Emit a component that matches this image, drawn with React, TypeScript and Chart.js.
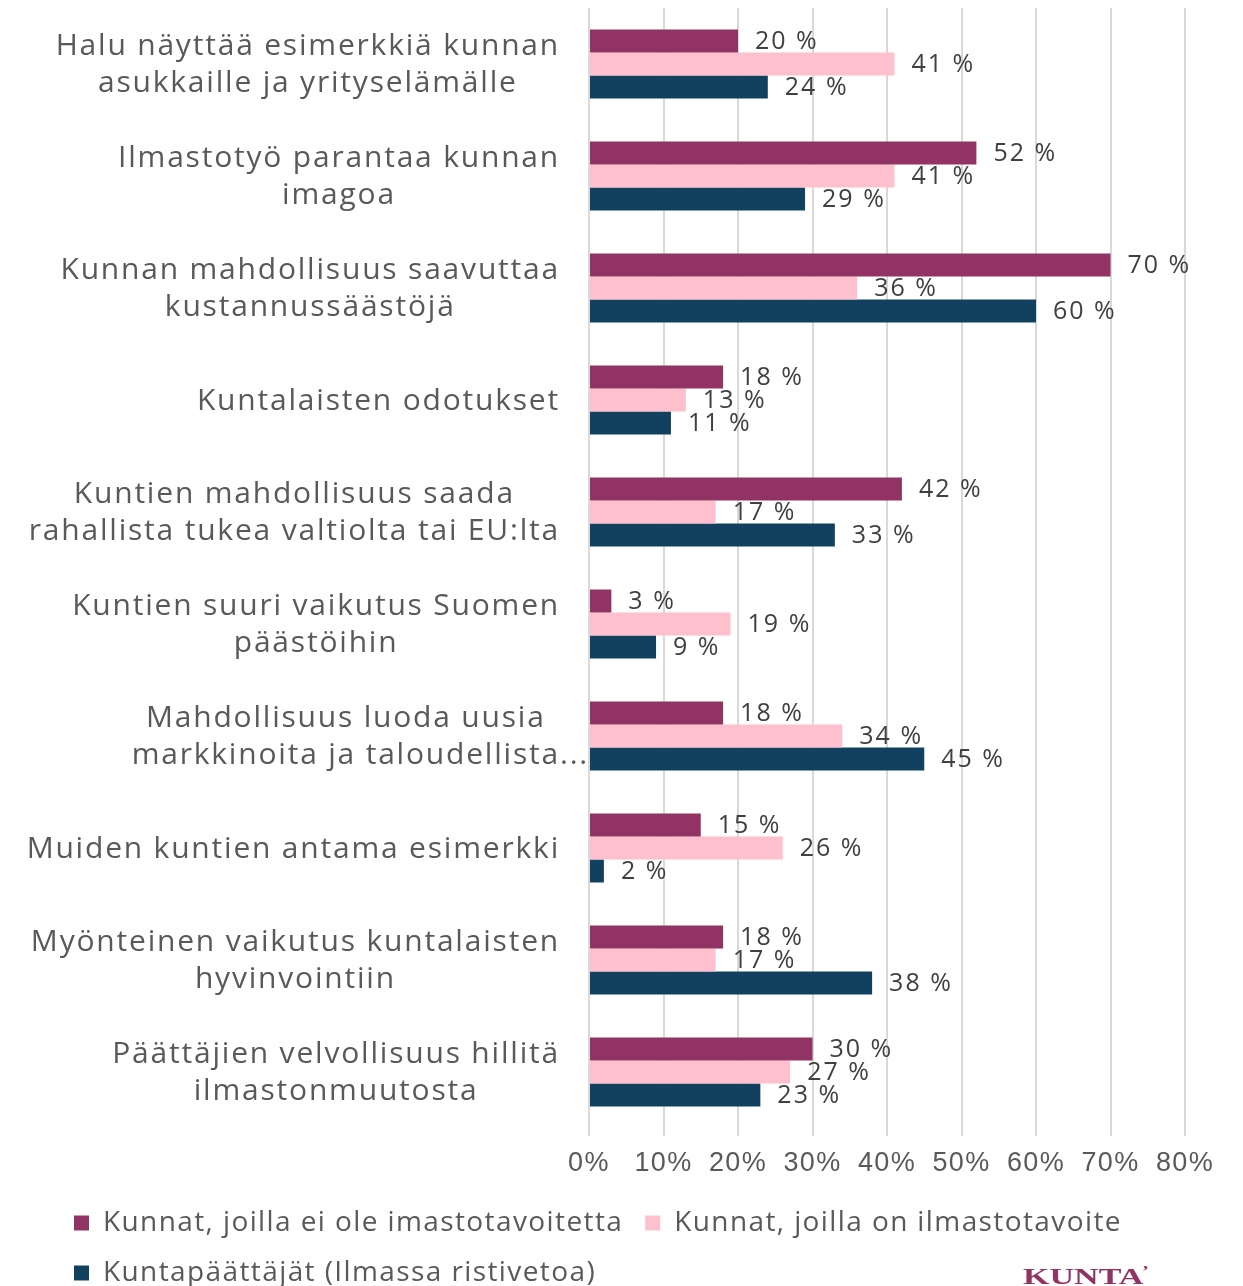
import React, { useEffect, useRef } from "react";
import { Chart, registerables } from "chart.js";

Chart.register(...registerables);

const categories: string[][] = [
  ["Halu näyttää esimerkkiä kunnan", "asukkaille ja yrityselämälle"],
  ["Ilmastotyö parantaa kunnan", "imagoa"],
  ["Kunnan mahdollisuus saavuttaa", "kustannussäästöjä"],
  ["Kuntalaisten odotukset"],
  ["Kuntien mahdollisuus saada", "rahallista tukea valtiolta tai EU:lta"],
  ["Kuntien suuri vaikutus Suomen", "päästöihin"],
  ["Mahdollisuus luoda uusia", "markkinoita ja taloudellista..."],
  ["Muiden kuntien antama esimerkki"],
  ["Myönteinen vaikutus kuntalaisten", "hyvinvointiin"],
  ["Päättäjien velvollisuus hillitä", "ilmastonmuutosta"],
];

const seriesNames = [
  "Kunnat, joilla ei ole imastotavoitetta",
  "Kunnat, joilla on ilmastotavoite",
  "Kuntapäättäjät (Ilmassa ristivetoa)",
];

const noGoal = [20, 52, 70, 18, 42, 3, 18, 15, 18, 30];
const withGoal = [41, 41, 36, 13, 17, 19, 34, 26, 17, 27];
const decisionMakers = [24, 29, 60, 11, 33, 9, 45, 2, 38, 23];

const xTicks = [0, 10, 20, 30, 40, 50, 60, 70, 80];

const colors = ["#913364", "#FFC0CE", "#12405F"];
const textFont = '"Open Sans", sans-serif';

const spacingPlugin = {
  id: "spacing",
  beforeUpdate(chart: any) {
    (chart.ctx as any).letterSpacing = "1.4px";
  },
  beforeLayout(chart: any) {
    (chart.ctx as any).letterSpacing = "1.4px";
  },
  beforeDraw(chart: any) {
    (chart.ctx as any).letterSpacing = "1.4px";
  },
};

const categoryLabelPlugin = {
  id: "categoryLabels",
  afterDraw(chart: any) {
    const ctx = chart.ctx;
    const yScale = chart.scales.y;
    const labels = chart.data.labels as string[][];
    ctx.save();
    ctx.font = `30px ${textFont}`;
    (ctx as any).letterSpacing = "1.8px";
    ctx.fillStyle = "#595959";
    ctx.textBaseline = "middle";
    ctx.textAlign = "left";
    const right = chart.chartArea.left - 29;
    const lh = 37;
    labels.forEach((lines, i) => {
      const cy = yScale.getPixelForTick(i) + 1;
      const cores = lines.map((l) => ctx.measureText(l.replace(/\.\.\.$/, "")).width);
      const blockW = Math.max(...cores);
      const cx = right - blockW / 2;
      lines.forEach((l, j) => {
        ctx.fillText(l, cx - cores[j] / 2, cy + (j - (lines.length - 1) / 2) * lh);
      });
    });
    ctx.restore();
  },
};

const valueLabelPlugin = {
  id: "valueLabels",
  afterDatasetsDraw(chart: any) {
    const ctx = chart.ctx;
    ctx.save();
    ctx.font = `25px ${textFont}`;
    (ctx as any).letterSpacing = "2px";
    ctx.fillStyle = "#404040";
    ctx.textBaseline = "middle";
    ctx.textAlign = "left";
    chart.data.datasets.forEach((ds: any, di: number) => {
      const meta = chart.getDatasetMeta(di);
      meta.data.forEach((el: any, i: number) => {
        const v = ds.data[i];
        ctx.fillText(`${Math.round(v)} %`, el.x + 17, el.y + 1);
      });
    });
    ctx.restore();
  },
};

const logoPlugin = {
  id: "logo",
  afterDraw(chart: any) {
    const ctx = chart.ctx;
    ctx.save();
    (ctx as any).letterSpacing = "0px";
    ctx.fillStyle = "#913364";
    ctx.font = 'bold 23px "Liberation Serif", serif';
    ctx.textBaseline = "alphabetic";
    ctx.textAlign = "left";
    ctx.translate(chart.width - 212, chart.height - 2);
    ctx.scale(1.48, 1);
    ctx.fillText("KUNTA", 0, 0);
    const w = ctx.measureText("KUNTA").width;
    ctx.font = 'bold 14px "Liberation Serif", serif';
    ctx.fillText("’", w - 1, -8);
    ctx.restore();
  },
};

export default function App() {
  const ref = useRef<HTMLCanvasElement | null>(null);
  useEffect(() => {
    if (!ref.current) return;
    const chart = new Chart(ref.current, {
      type: "bar",
      data: {
        labels: categories,
        datasets: [
          { label: seriesNames[0], data: noGoal, backgroundColor: colors[0] },
          { label: seriesNames[1], data: withGoal, backgroundColor: colors[1] },
          { label: seriesNames[2], data: decisionMakers, backgroundColor: colors[2] },
        ],
      },
      options: {
        indexAxis: "y",
        animation: false,
        responsive: true,
        maintainAspectRatio: false,
        datasets: {
          bar: { categoryPercentage: 0.616, barPercentage: 1.0 },
        },
        layout: { padding: { left: 44, right: 50, top: 0, bottom: -11 } },
        scales: {
          x: {
            min: 0,
            max: 80,
            afterBuildTicks(scale: any) {
              scale.ticks = xTicks.map((v) => ({ value: v }));
            },
            afterFit(scale: any) {
              scale.height = 59;
            },
            border: { display: false },
            grid: { color: "#d9d9d9", lineWidth: 2, drawTicks: true, tickLength: 8 },
            ticks: {
              padding: 11,
              color: "#595959",
              font: { family: '"Liberation Sans", Arial, sans-serif', size: 27 },
              callback: (v: any) => `${v}%`,
            },
          },
          y: {
            grid: { display: false },
            border: { display: false },
            ticks: { display: false },
            afterFit(scale: any) {
              scale.width = 537;
            },
          },
        },
        plugins: {
          tooltip: { enabled: false },
          legend: {
            position: "bottom",
            align: "start",
            labels: {
              boxWidth: 15,
              boxHeight: 15,
              padding: 22,
              color: "#595959",
              font: { family: textFont, size: 28 },
            },
          },
        },
      },
      plugins: [spacingPlugin, categoryLabelPlugin, valueLabelPlugin, logoPlugin],
    });
    return () => chart.destroy();
  }, []);

  return (
    <div style={{ position: "absolute", left: 8, top: 8, width: 1227, height: 1278 }}>
      <canvas ref={ref} />
    </div>
  );
}
